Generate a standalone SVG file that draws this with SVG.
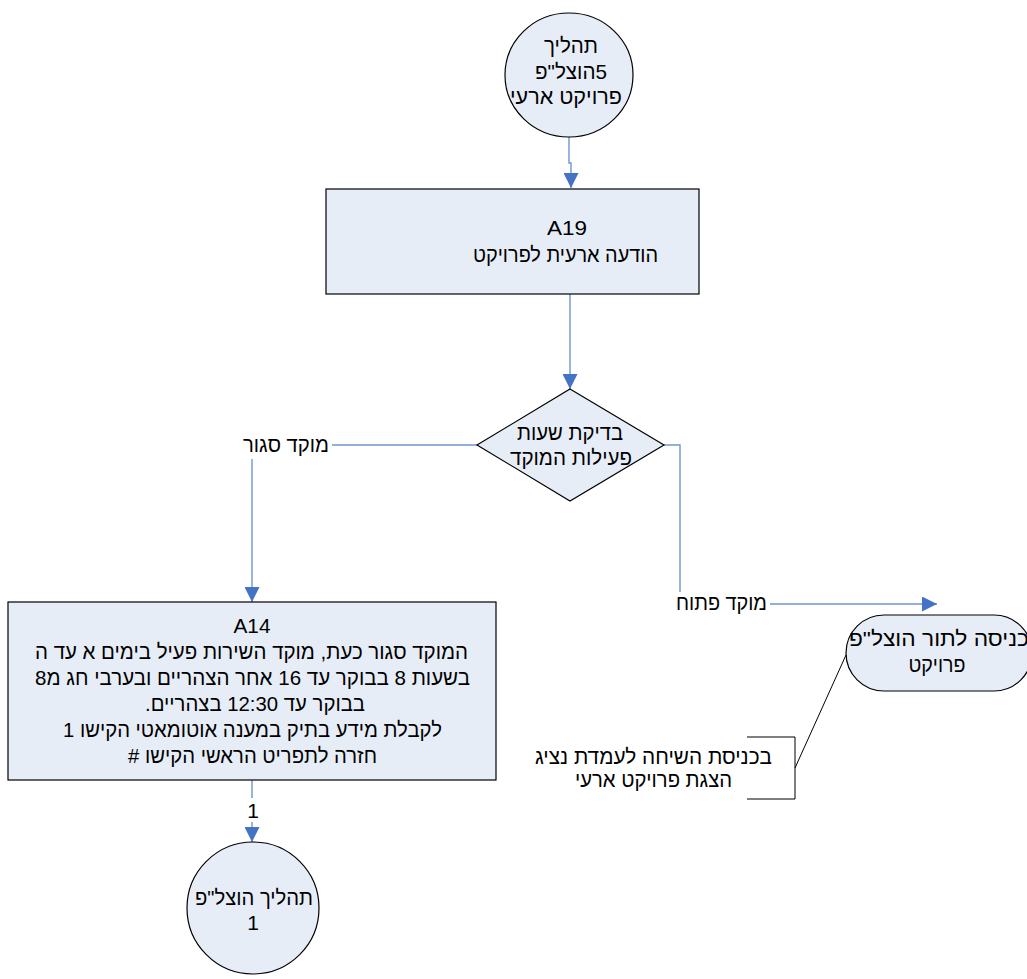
<svg xmlns="http://www.w3.org/2000/svg" width="1027" height="979" viewBox="0 0 1027 979">
<style>
.node{fill:#E7EDF7;stroke:#000;stroke-width:1.2}
.t{font-family:"Liberation Sans",Arial,"DejaVu Sans",sans-serif;font-size:21px;fill:#000;text-anchor:middle;direction:rtl}
.c{fill:none;stroke:#6F96CF;stroke-width:1.4}
.bg{fill:#fff}
.ann{fill:none;stroke:#000;stroke-width:1}
</style>
<defs>
<marker id="arr" markerUnits="userSpaceOnUse" markerWidth="15" markerHeight="15" refX="15" refY="7.5" orient="auto">
<path d="M0,0 L15,7.5 L0,15 z" fill="#4472C4"/>
</marker>
</defs>
<rect width="1027" height="979" fill="#fff"/>
<g id="connectors">
<path class="c" d="M569,137 V163 H571 V188" marker-end="url(#arr)"/>
<path class="c" d="M570,294 V389" marker-end="url(#arr)"/>
<path class="c" d="M477,445 H252 V602" marker-end="url(#arr)"/>
<path class="c" d="M664,445 H680 V604 H937" marker-end="url(#arr)"/>
<path class="c" d="M252,780 V842" marker-end="url(#arr)"/>
<rect class="bg" x="236" y="433" width="96" height="26"/>
<text class="t" x="286" y="452" textLength="86" lengthAdjust="spacingAndGlyphs">מוקד סגור</text>
<rect class="bg" x="672" y="592" width="98" height="24"/>
<text class="t" x="721.5" y="610" textLength="91" lengthAdjust="spacingAndGlyphs">מוקד פתוח</text>
<rect class="bg" x="244" y="798" width="17" height="24"/>
<text class="t" x="253" y="818">1</text>
</g>
<g id="start">
<ellipse class="node" cx="569" cy="75" rx="64" ry="62"/>
<text class="t" x="571" y="53" textLength="54" lengthAdjust="spacingAndGlyphs">תהליך</text>
<text class="t" x="571" y="79" textLength="72" lengthAdjust="spacingAndGlyphs">5הוצל"פ</text>
<text class="t" x="566" y="104" textLength="112" lengthAdjust="spacingAndGlyphs">פרויקט ארעי</text>
</g>
<g id="A19">
<rect class="node" x="326" y="189" width="373" height="105"/>
<text class="t" x="567" y="235" textLength="40" lengthAdjust="spacingAndGlyphs">A19</text>
<text class="t" x="565.5" y="262" textLength="185" lengthAdjust="spacingAndGlyphs">הודעה ארעית לפרויקט</text>
</g>
<g id="decision">
<polygon class="node" points="570,389 664,445 570,501 477,445"/>
<text class="t" x="570" y="440" textLength="106" lengthAdjust="spacingAndGlyphs">בדיקת שעות</text>
<text class="t" x="571" y="465" textLength="122" lengthAdjust="spacingAndGlyphs">פעילות המוקד</text>
</g>
<g id="A14">
<rect class="node" x="8" y="602" width="488" height="178"/>
<text class="t" x="252" y="633" textLength="37" lengthAdjust="spacingAndGlyphs">A14</text>
<text class="t" x="251.5" y="659" textLength="433" lengthAdjust="spacingAndGlyphs">המוקד סגור כעת, מוקד השירות פעיל בימים א עד ה</text>
<text class="t" x="252.5" y="685" textLength="435" lengthAdjust="spacingAndGlyphs">בשעות 8 בבוקר עד 16 אחר הצהריים ובערבי חג מ8</text>
<text class="t" x="255" y="711" textLength="220" lengthAdjust="spacingAndGlyphs">בבוקר עד 12:30 בצהריים.</text>
<text class="t" x="252.5" y="737" textLength="379" lengthAdjust="spacingAndGlyphs">לקבלת מידע בתיק במענה אוטומאטי הקישו 1</text>
<text class="t" x="252.5" y="763" textLength="249" lengthAdjust="spacingAndGlyphs">חזרה לתפריט הראשי הקישו #</text>
</g>
<g id="end1">
<circle class="node" cx="253" cy="908" r="66"/>
<text class="t" x="254" y="905" textLength="118" lengthAdjust="spacingAndGlyphs">תהליך הוצל"פ</text>
<text class="t" x="253" y="930">1</text>
</g>
<g id="queue">
<rect class="node" x="846" y="615" width="186" height="76" rx="38"/>
<text class="t" x="939" y="646" textLength="180" lengthAdjust="spacingAndGlyphs">כניסה לתור הוצל"פ</text>
<text class="t" x="937" y="672" textLength="57" lengthAdjust="spacingAndGlyphs">פרויקט</text>
</g>
<g id="annotation">
<path class="ann" d="M747,737 H795 V799 H747"/>
<path class="ann" d="M795,768 L846,655"/>
<text class="t" x="653.5" y="764" textLength="237" lengthAdjust="spacingAndGlyphs">בכניסת השיחה לעמדת נציג</text>
<text class="t" x="653.5" y="787" textLength="157" lengthAdjust="spacingAndGlyphs">הצגת פרויקט ארעי</text>
</g>
</svg>
